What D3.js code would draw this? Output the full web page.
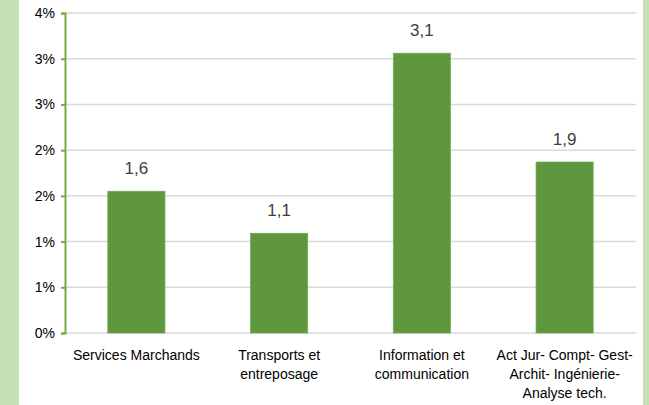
<!DOCTYPE html>
<html>
<head>
<meta charset="UTF-8">
<title>bar chart</title>
<script src="https://d3js.org/d3.v7.min.js"></script>
<style>
  body { margin: 0; background: #c5e0b4; }
  svg { display: block; }
</style>
</head>
<body>
<svg id="chart" width="649" height="405"></svg>
<script>
// categories (lines of each label) and values in %
var categories = ["Services Marchands", "Transports et entreposage", "Information et communication", "Act Jur- Compt- Gest- Archit- Ingénierie- Analyse tech."];
var categoryLines = [
  ["Services Marchands"],
  ["Transports et", "entreposage"],
  ["Information et", "communication"],
  ["Act Jur- Compt- Gest-", "Archit- Ingénierie-", "Analyse tech."]
];
var values = [1.55, 1.09, 3.06, 1.87];
var yTicks = [0, 0.5, 1, 1.5, 2, 2.5, 3, 3.5];

var svg = d3.select("#chart");
var font = "'Liberation Sans', Arial, sans-serif";

// white plot panel between the green strips
svg.append("rect")
  .attr("x", 19).attr("y", 0)
  .attr("width", 624).attr("height", 405)
  .attr("fill", "#ffffff");

var x = d3.scaleBand()
  .domain(categories)
  .range([65, 636])
  .paddingInner(0.6)
  .paddingOuter(0.3);

var y = d3.scaleLinear()
  .domain([0, 3.5])
  .range([333, 13]);

var fr = d3.formatLocale({ decimal: ",", thousands: " ", grouping: [3], currency: ["", "€"] });
var fmt = fr.format(".1f");

// gridlines
svg.append("g")
  .selectAll("line")
  .data(yTicks)
  .enter().append("line")
  .attr("x1", 65).attr("x2", 636)
  .attr("y1", function(d) { return y(d); })
  .attr("y2", function(d) { return y(d); })
  .attr("stroke", "#d9d9d9")
  .attr("stroke-width", 1.5);

// y axis
var yAxis = d3.axisLeft(y)
  .tickValues(yTicks)
  .tickSize(4)
  .tickPadding(6)
  .tickFormat(function(d) { return Math.round(d + 0.001) + "%"; });

var gy = svg.append("g")
  .attr("transform", "translate(65,0)")
  .call(yAxis);
gy.select(".domain").attr("stroke", "#70ad47").attr("stroke-width", 2);
gy.selectAll(".tick line").attr("stroke", "#70ad47").attr("stroke-width", 2);
gy.selectAll(".tick text")
  .attr("fill", "#000")
  .style("font-size", "14px")
  .style("font-family", font);

// bars
svg.append("g")
  .selectAll("rect")
  .data(values)
  .enter().append("rect")
  .attr("x", function(d, i) { return x(categories[i]); })
  .attr("y", function(d) { return y(d); })
  .attr("width", x.bandwidth())
  .attr("height", function(d) { return y(0) - y(d); })
  .attr("fill", "#5f9640")
  .attr("stroke", "#70ad47")
  .attr("stroke-width", 0.8);

// value labels
svg.append("g")
  .selectAll("text")
  .data(values)
  .enter().append("text")
  .attr("x", function(d, i) { return x(categories[i]) + x.bandwidth() / 2; })
  .attr("y", function(d) { return y(d) - 17; })
  .attr("text-anchor", "middle")
  .attr("fill", "#404040")
  .style("font-size", "17px")
  .style("font-family", font)
  .text(function(d) { return fmt(d); });

// category labels
var cl = svg.append("g")
  .selectAll("text")
  .data(categoryLines)
  .enter().append("text")
  .attr("text-anchor", "middle")
  .attr("fill", "#000")
  .style("font-size", "14px")
  .style("font-family", font)
  .attr("transform", function(d, i) {
    return "translate(" + (x(categories[i]) + x.bandwidth() / 2) + ",360)";
  });
cl.selectAll("tspan")
  .data(function(d) { return d; })
  .enter().append("tspan")
  .attr("x", 0)
  .attr("y", function(d, j) { return j * 19; })
  .text(function(d) { return d; });
</script>
</body>
</html>
